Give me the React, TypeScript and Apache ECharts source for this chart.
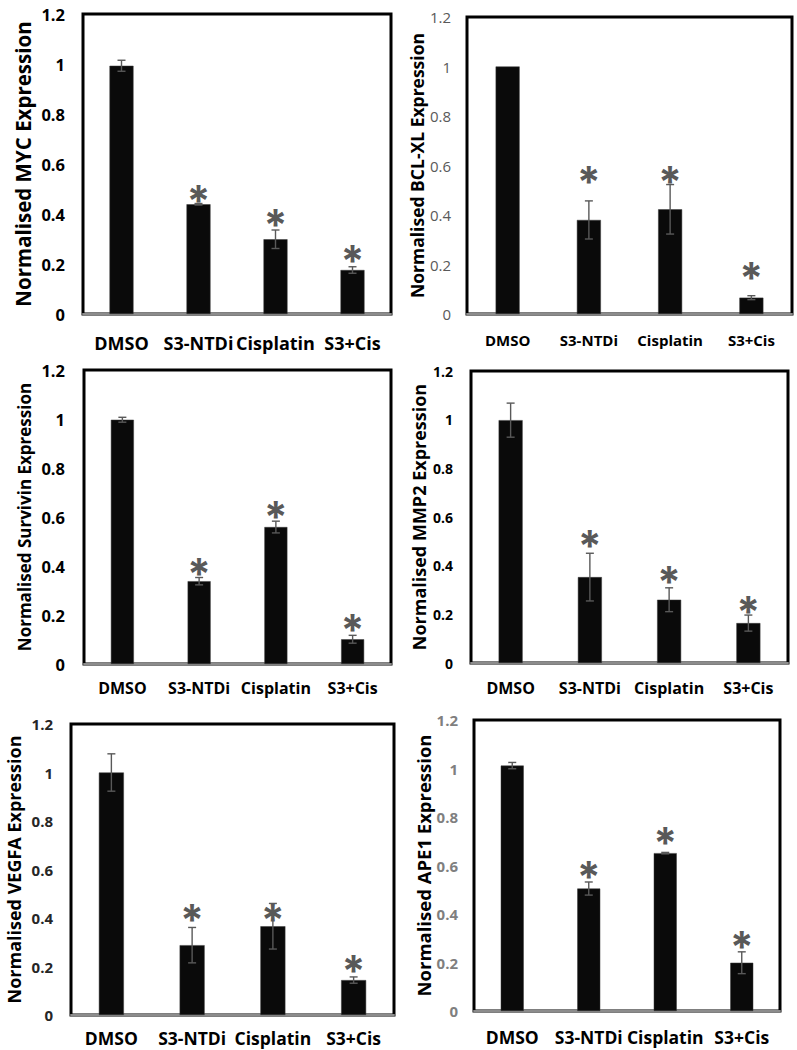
import React, { useEffect, useRef } from "react";
import * as echarts from "echarts";

// ---- data ----
const categories = ["DMSO", "S3-NTDi", "Cisplatin", "S3+Cis"];

const mycMean = [0.993, 0.439, 0.299, 0.176];
const mycErr = [0.022, 0.003, 0.037, 0.013];
const mycStar = [null, 0.482, 0.384, 0.241];

const bclMean = [1.0, 0.38, 0.423, 0.066];
const bclErr = [0, 0.077, 0.1, 0.008];
const bclStar = [null, 0.563, 0.563, 0.175];

const survivinMean = [0.997, 0.338, 0.559, 0.101];
const survivinErr = [0.01, 0.015, 0.024, 0.016];
const survivinStar = [null, 0.396, 0.63, 0.166];

const mmp2Mean = [0.998, 0.353, 0.26, 0.164];
const mmp2Err = [0.07, 0.098, 0.049, 0.033];
const mmp2Star = [null, 0.508, 0.362, 0.239];

const vegfaMean = [1.0, 0.288, 0.366, 0.144];
const vegfaErr = [0.077, 0.073, 0.094, 0.013];
const vegfaStar = [null, 0.421, 0.421, 0.21];

const ape1Mean = [1.012, 0.505, 0.651, 0.199];
const ape1Err = [0.013, 0.027, 0.003, 0.045];
const ape1Star = [null, 0.58, 0.721, 0.292];

const yMin = 0;
const yMax = 1.2;
const yStep = 0.2;

// ---- layout / style per panel ----
const panels = [
  {
    title: "Normalised MYC Expression", mean: mycMean, err: mycErr, star: mycStar,
    grid: { left: 83, top: 14, width: 308, height: 300 }, barWidth: 24,
    tick: { size: 16.5, color: "#000", weight: "bold", margin: 18 },
    name: { size: 20.5, gap: 50 }, xlab: { size: 18, margin: 20 },
  },
  {
    title: "Normalised BCL-XL Expression", mean: bclMean, err: bclErr, star: bclStar,
    grid: { left: 467, top: 17, width: 325, height: 297 }, barWidth: 24,
    tick: { size: 15, color: "#595959", weight: "normal", margin: 16 },
    name: { size: 17.5, gap: 41 }, xlab: { size: 15, margin: 18 },
  },
  {
    title: "Normalised Survivin Expression", mean: survivinMean, err: survivinErr, star: survivinStar,
    grid: { left: 84, top: 370, width: 307, height: 294 }, barWidth: 23,
    tick: { size: 16.5, color: "#000", weight: "bold", margin: 19 },
    name: { size: 17, gap: 51 }, xlab: { size: 16, margin: 16 },
  },
  {
    title: "Normalised MMP2 Expression", mean: mmp2Mean, err: mmp2Err, star: mmp2Star,
    grid: { left: 471, top: 371, width: 317, height: 292 }, barWidth: 24,
    tick: { size: 14, color: "#000", weight: "bold", margin: 18 },
    name: { size: 18, gap: 43 }, xlab: { size: 16, margin: 17 },
  },
  {
    title: "Normalised VEGFA Expression", mean: vegfaMean, err: vegfaErr, star: vegfaStar,
    grid: { left: 71, top: 724, width: 323, height: 291 }, barWidth: 25,
    tick: { size: 15, color: "#262626", weight: "bold", margin: 18 },
    name: { size: 18, gap: 48 }, xlab: { size: 17.5, margin: 14 },
  },
  {
    title: "Normalised APE1 Expression", mean: ape1Mean, err: ape1Err, star: ape1Star,
    grid: { left: 474, top: 720, width: 306, height: 291 }, barWidth: 23,
    tick: { size: 15, color: "#7f7f7f", weight: "bold", margin: 16 },
    name: { size: 18.5, gap: 41 }, xlab: { size: 17.5, margin: 17 },
  },
];

const FONT = "'Open Sans', 'Liberation Sans', sans-serif";
const STAR_SIZE = 43;

function buildOption() {
  const grid: any[] = [];
  const xAxis: any[] = [];
  const yAxis: any[] = [];
  const series: any[] = [];
  panels.forEach((p, k) => {
    grid.push({
      ...p.grid,
      show: true,
      borderColor: "#000",
      borderWidth: 3,
      backgroundColor: "#fff",
      containLabel: false,
    });
    xAxis.push({
      type: "category",
      gridIndex: k,
      data: categories,
      axisTick: { show: false },
      axisLine: { show: true, lineStyle: { color: "#8c8c8c", width: 2 } },
      axisLabel: {
        interval: 0,
        fontFamily: FONT,
        fontWeight: "bold",
        fontSize: p.xlab.size,
        color: "#000",
        margin: p.xlab.margin,
      },
      splitLine: { show: false },
    });
    yAxis.push({
      type: "value",
      gridIndex: k,
      min: yMin,
      max: yMax,
      interval: yStep,
      name: p.title,
      nameLocation: "middle",
      nameGap: p.name.gap,
      nameTextStyle: {
        fontFamily: FONT,
        fontWeight: "bold",
        fontSize: p.name.size,
        color: "#000",
      },
      axisLine: { show: false },
      axisTick: { show: false },
      splitLine: { show: false },
      axisLabel: {
        fontFamily: FONT,
        fontWeight: p.tick.weight,
        fontSize: p.tick.size,
        color: p.tick.color,
        margin: p.tick.margin,
      },
    });
    series.push({
      type: "bar",
      xAxisIndex: k,
      yAxisIndex: k,
      data: p.mean,
      barWidth: p.barWidth,
      itemStyle: { color: "#0a0a0a", borderColor: "#3a3a3a", borderWidth: 0.5 },
      z: 2,
    });
    series.push({
      type: "custom",
      xAxisIndex: k,
      yAxisIndex: k,
      z: 3,
      data: p.mean.map((v, i) => [i, v, p.err[i], p.star[i] == null ? -1 : p.star[i]]),
      renderItem: (params: any, api: any) => {
        const i = api.value(0);
        const v = api.value(1);
        const e = api.value(2);
        const s = api.value(3);
        const children: any[] = [];
        const errStyle = { stroke: "#595959", lineWidth: 1.4 };
        if (e > 0) {
          const hi = api.coord([i, v + e]);
          const lo = api.coord([i, v - e]);
          const cap = 4;
          children.push({ type: "line", shape: { x1: hi[0], y1: hi[1], x2: lo[0], y2: lo[1] }, style: errStyle });
          children.push({ type: "line", shape: { x1: hi[0] - cap, y1: hi[1], x2: hi[0] + cap, y2: hi[1] }, style: errStyle });
          children.push({ type: "line", shape: { x1: lo[0] - cap, y1: lo[1], x2: lo[0] + cap, y2: lo[1] }, style: errStyle });
        }
        if (s >= 0) {
          const c = api.coord([i, s]);
          children.push({
            type: "text",
            x: c[0],
            y: c[1] + STAR_SIZE * 0.14,
            style: {
              text: "*",
              fill: "#595959",
              fontFamily: "Inter, 'DejaVu Sans', sans-serif",
              fontSize: STAR_SIZE,
              fontWeight: "bold",
              align: "center",
              verticalAlign: "middle",
            },
          });
        }
        return { type: "group", children };
      },
    });
  });
  return {
    animation: false,
    backgroundColor: "#fff",
    grid,
    xAxis,
    yAxis,
    series,
  };
}

export default function App() {
  const ref = useRef<HTMLDivElement>(null);
  useEffect(() => {
    if (!ref.current) return;
    const chart = echarts.init(ref.current, null, { renderer: "svg" });
    chart.setOption(buildOption() as any);
    return () => chart.dispose();
  }, []);
  return (
    <div
      ref={ref}
      style={{ position: "absolute", left: 0, top: 0, width: 797, height: 1050, background: "#fff" }}
    />
  );
}
